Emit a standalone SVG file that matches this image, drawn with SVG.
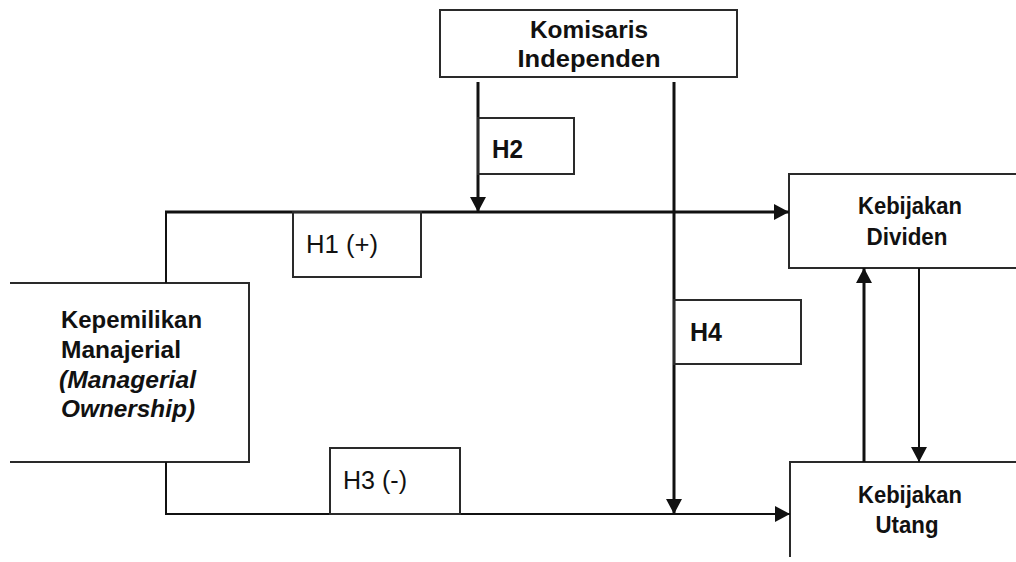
<svg xmlns="http://www.w3.org/2000/svg" width="1016" height="562" viewBox="0 0 1016 562">
<defs>
<style>
.box{fill:#fff;stroke:#2a2a2a;stroke-width:2}
.lbl{fill:none;stroke:#2a2a2a;stroke-width:2}
.t{font-family:"Liberation Sans",Arial,sans-serif;fill:#111}
.b{font-weight:bold;font-size:23px}
.h{font-size:25px}
.c{stroke:#111;fill:none}
.w3{stroke-width:3}
.w2{stroke-width:2}
</style>
<marker id="ah" markerUnits="userSpaceOnUse" markerWidth="16" markerHeight="16" viewBox="0 0 16 16" refX="15" refY="8" orient="auto">
<path d="M0,0 L15,8 L0,16 Z" fill="#111"/>
</marker>
</defs>
<rect width="1016" height="562" fill="#fff"/>

<g id="komisaris">
<rect class="box" x="440" y="10" width="297" height="67"/>
<text class="t b" x="589" y="38" text-anchor="middle" textLength="118" lengthAdjust="spacingAndGlyphs">Komisaris</text>
<text class="t b" x="589" y="67" text-anchor="middle" textLength="143" lengthAdjust="spacingAndGlyphs">Independen</text>
</g>

<g id="kepemilikan">
<rect x="10" y="283" width="239" height="179" fill="#fff"/>
<path class="lbl" d="M10,283 H249 V462 H10"/>
<text class="t b" x="61" y="328" textLength="141" lengthAdjust="spacingAndGlyphs">Kepemilikan</text>
<text class="t b" x="61" y="358" textLength="120" lengthAdjust="spacingAndGlyphs">Manajerial</text>
<text class="t b" x="59" y="388" font-style="italic" textLength="137" lengthAdjust="spacingAndGlyphs">(Managerial</text>
<text class="t b" x="61" y="417" font-style="italic" textLength="134" lengthAdjust="spacingAndGlyphs">Ownership)</text>
</g>

<g id="dividen">
<rect x="789" y="174" width="240" height="94" fill="#fff"/>
<path class="lbl" d="M1017,174 H789 V268 H1017"/>
<text class="t b" x="910" y="214" text-anchor="middle" textLength="104" lengthAdjust="spacingAndGlyphs">Kebijakan</text>
<text class="t b" x="907" y="245" text-anchor="middle" textLength="81" lengthAdjust="spacingAndGlyphs">Dividen</text>
</g>

<g id="utang">
<path class="lbl" d="M1017,462 H790 V557"/>
<text class="t b" x="910" y="503" text-anchor="middle" textLength="104" lengthAdjust="spacingAndGlyphs">Kebijakan</text>
<text class="t b" x="907" y="533" text-anchor="middle" textLength="63" lengthAdjust="spacingAndGlyphs">Utang</text>
</g>

<g id="connectors">
<path class="c w2" d="M166,283 V212"/>
<path class="c w3" d="M165,212 H789" marker-end="url(#ah)"/>
<path class="c w2" d="M166,462 V514 H790" marker-end="url(#ah)"/>
<path class="c w3" d="M478,82 V212" marker-end="url(#ah)"/>
<path class="c w3" d="M674,82 V514" marker-end="url(#ah)"/>
<path class="c w3" d="M864,462 V268" marker-end="url(#ah)"/>
<path class="c w2" d="M919,268 V462" marker-end="url(#ah)"/>
</g>

<g id="label-h1">
<rect class="lbl" x="293" y="212" width="128" height="65"/>
<text class="t h" x="306" y="253" textLength="72" lengthAdjust="spacingAndGlyphs">H1 (+)</text>
</g>
<g id="label-h2">
<rect class="lbl" x="478" y="118" width="96" height="56"/>
<text class="t h" x="492" y="158" font-weight="bold" textLength="31" lengthAdjust="spacingAndGlyphs">H2</text>
</g>
<g id="label-h3">
<rect class="lbl" x="330" y="448" width="130" height="66"/>
<text class="t h" x="343" y="489" textLength="64" lengthAdjust="spacingAndGlyphs">H3 (-)</text>
</g>
<g id="label-h4">
<rect class="lbl" x="674" y="300" width="127" height="64"/>
<text class="t h" x="690" y="341" font-weight="bold" textLength="32" lengthAdjust="spacingAndGlyphs">H4</text>
</g>
</svg>
